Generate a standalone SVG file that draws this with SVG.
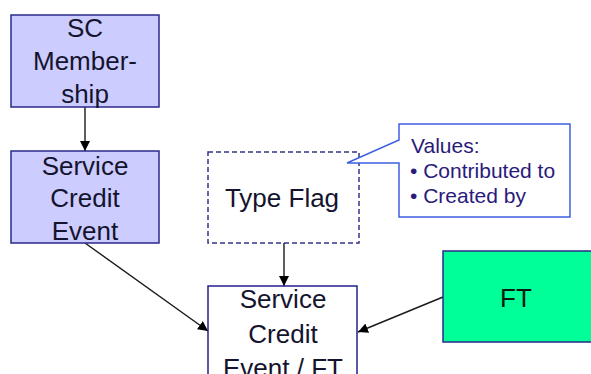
<svg xmlns="http://www.w3.org/2000/svg" width="591" height="374" viewBox="0 0 591 374">
<defs>
<style>
.lbl{font-family:"Liberation Sans",Arial,sans-serif;font-size:26px;fill:#14142e;text-anchor:middle}
.note{font-family:"Liberation Sans",Arial,sans-serif;font-size:21px;fill:#2a1a7a}
.purple{fill:#ccccff;stroke:#2a2a8a;stroke-width:1.5}
.edge{stroke:#1a1a1a;stroke-width:1.4;fill:none;marker-end:url(#ah)}
</style>
<marker id="ah" viewBox="0 0 10 10" refX="10" refY="5" markerWidth="10" markerHeight="10" markerUnits="userSpaceOnUse" orient="auto">
<path d="M0,0 L10,5 L0,10 Z" fill="#000"/>
</marker>
</defs>
<rect width="591" height="374" fill="#fff"/>
<g id="connectors">
<line class="edge" x1="85" y1="107" x2="85" y2="151"/>
<line class="edge" x1="284" y1="243" x2="284" y2="286"/>
<line class="edge" x1="85" y1="243" x2="208" y2="331"/>
<line class="edge" x1="443" y1="297" x2="358" y2="332"/>
</g>
<g id="sc-membership">
<rect class="purple" x="11" y="15" width="148" height="92"/>
<text class="lbl" x="85" y="37">SC</text>
<text class="lbl" x="85" y="70">Member-</text>
<text class="lbl" x="85" y="103">ship</text>
</g>
<g id="service-credit-event">
<rect class="purple" x="11" y="151" width="148" height="92"/>
<text class="lbl" x="85" y="175">Service</text>
<text class="lbl" x="85" y="207">Credit</text>
<text class="lbl" x="85" y="240">Event</text>
</g>
<g id="type-flag">
<rect x="208" y="152" width="151" height="91" fill="#fff" stroke="#33338a" stroke-width="1.5" stroke-dasharray="5,3"/>
<text class="lbl" x="282" y="207">Type Flag</text>
</g>
<g id="values-note">
<path d="M399,124 H570 V217 H399 V163 H347 L399,140 Z" fill="#fff" stroke="#3f5fe0" stroke-width="1.5"/>
<text class="note" x="411" y="153">Values:</text>
<text class="note" x="410" y="178">• Contributed to</text>
<text class="note" x="410" y="203">• Created by</text>
</g>
<g id="service-credit-event-ft">
<rect x="208" y="286" width="149" height="100" fill="#fff" stroke="#22228a" stroke-width="1.5"/>
<text class="lbl" x="283" y="308">Service</text>
<text class="lbl" x="283" y="343">Credit</text>
<text class="lbl" x="283" y="377">Event / FT</text>
</g>
<g id="ft">
<rect x="443" y="251" width="160" height="91" fill="#00ff99" stroke="#2a2a8a" stroke-width="1.5"/>
<text class="lbl" x="516" y="307" style="fill:#0a1a10">FT</text>
</g>
</svg>
